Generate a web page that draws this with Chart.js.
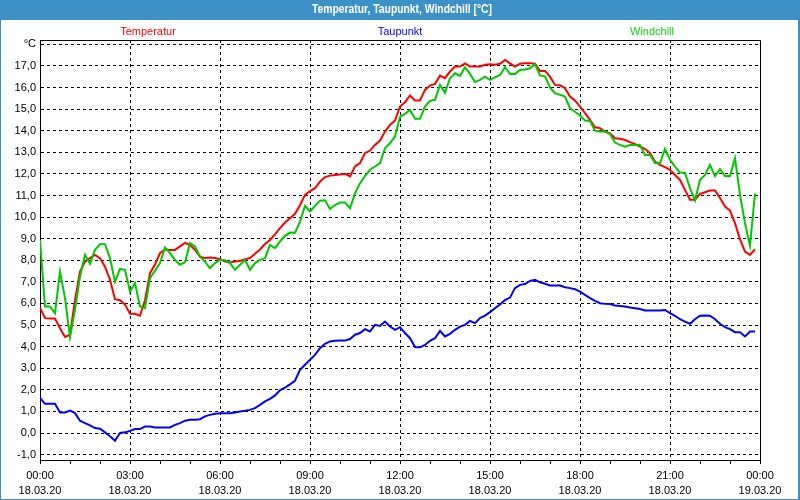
<!DOCTYPE html>
<html lang="de">
<head>
    <meta charset="UTF-8">
    <title>Temperatur, Taupunkt, Windchill</title>
    <script src="https://cdn.jsdelivr.net/npm/chart.js"></script>
    <style>
        html, body { margin: 0; padding: 0; background: #fff; }
        canvas { display: block; }
    </style>
</head>
<body>
    <canvas id="chart" width="800" height="500"></canvas>

    <script>
        // Messwerte alle 10 Minuten, 18.03.20 00:00 bis 23:50
        const stepMinutes = 10;

        const temperatur = [
            5.8, 5.32, 5.3, 5.3, 4.85, 4.45, 4.55, 6.15, 7.48, 7.94, 8.1, 8.25,
            8.1, 7.7, 7.1, 6.2, 6.15, 5.95, 5.52, 5.52, 5.43, 6.15, 7.4, 7.8,
            8.33, 8.5, 8.48, 8.48, 8.64, 8.8, 8.71, 8.48, 8.17, 8.1, 8.13, 8.1,
            8.05, 7.94, 7.9, 7.94, 7.97, 8.05, 8.1, 8.3, 8.5, 8.75, 8.94, 9.2,
            9.49, 9.75, 9.95, 10.15, 10.55, 11.03, 11.2, 11.34, 11.64, 11.85, 11.92, 11.95,
            11.97, 12.0, 11.88, 12.34, 12.5, 12.96, 13.08, 13.34, 13.54, 13.96, 14.27, 14.47,
            15.12, 15.32, 15.63, 15.4, 15.4, 15.89, 16.09, 16.17, 16.55, 16.43, 16.74, 16.97,
            16.97, 17.12, 16.97, 16.97, 16.97, 17.05, 17.08, 17.05, 17.1, 17.28, 17.12, 16.97,
            17.1, 17.12, 17.12, 17.1, 16.77, 16.77, 16.5, 16.12, 16.1, 15.97, 15.58, 15.4,
            15.12, 14.81, 14.5, 14.16, 14.12, 13.96, 13.88, 13.65, 13.63, 13.57, 13.47, 13.38,
            13.26, 13.16, 12.96, 12.57, 12.42, 12.31, 12.19, 11.95, 11.72, 11.26, 10.8, 10.8,
            11.07, 11.15, 11.23, 11.23, 10.88, 10.49, 10.3, 9.72, 8.98, 8.4, 8.25, 8.51
        ];

        const taupunkt = [
            1.62, 1.35, 1.35, 1.35, 0.95, 0.95, 1.04, 0.92, 0.57, 0.46, 0.35, 0.23,
            0.2, 0.03, -0.15, -0.36, 0.0, 0.03, 0.1, 0.18, 0.18, 0.3, 0.3, 0.26,
            0.26, 0.26, 0.26, 0.38, 0.46, 0.57, 0.61, 0.61, 0.64, 0.77, 0.84, 0.89,
            0.92, 0.92, 0.92, 0.95, 1.0, 1.03, 1.07, 1.15, 1.3, 1.46, 1.58, 1.74,
            1.98, 2.1, 2.25, 2.42, 2.93, 3.16, 3.39, 3.62, 3.93, 4.13, 4.24, 4.27,
            4.28, 4.28, 4.35, 4.55, 4.63, 4.81, 4.7, 5.01, 4.96, 5.16, 4.93, 4.78,
            4.9, 4.63, 4.39, 3.98, 3.97, 4.08, 4.27, 4.39, 4.73, 4.47, 4.59, 4.78,
            4.93, 5.01, 5.19, 5.09, 5.32, 5.44, 5.6, 5.78, 5.95, 6.16, 6.27, 6.71,
            6.86, 6.9, 7.04, 7.09, 6.98, 6.91, 6.83, 6.83, 6.83, 6.75, 6.71, 6.66,
            6.55, 6.4, 6.25, 6.12, 6.01, 5.98, 5.97, 5.9, 5.88, 5.86, 5.81, 5.78,
            5.74, 5.67, 5.67, 5.67, 5.67, 5.7, 5.55, 5.43, 5.27, 5.16, 5.06, 5.27,
            5.43, 5.44, 5.43, 5.27, 5.06, 4.9, 4.81, 4.67, 4.67, 4.47, 4.7, 4.7
        ];

        const windchill = [
            8.94, 5.86, 5.86, 5.55, 7.48, 6.25, 4.44, 5.7, 7.25, 8.25, 7.83, 8.48,
            8.74, 8.74, 8.1, 7.0, 7.6, 7.56, 6.55, 6.94, 5.86, 5.78, 7.17, 7.52,
            7.87, 8.59, 8.33, 8.02, 7.79, 7.91, 8.79, 8.64, 8.17, 7.94, 7.63, 7.87,
            8.02, 8.0, 7.87, 7.56, 7.79, 8.02, 7.56, 7.87, 8.02, 8.1, 8.71, 8.56,
            8.87, 9.13, 9.28, 9.27, 9.79, 10.52, 10.26, 10.52, 10.76, 10.78, 10.37, 10.56,
            10.67, 10.67, 10.41, 11.1, 11.57, 11.9, 12.19, 12.34, 12.5, 13.19, 13.42, 13.73,
            14.65, 14.78, 14.96, 14.55, 14.55, 15.12, 15.38, 15.43, 16.12, 15.76, 16.43, 16.66,
            16.54, 16.94, 16.63, 16.25, 16.35, 16.5, 16.35, 16.47, 16.58, 16.94, 16.63, 16.63,
            16.81, 16.83, 16.89, 17.08, 16.56, 16.52, 16.0, 15.74, 15.66, 15.58, 15.04, 14.88,
            14.7, 14.47, 14.45, 14.0, 13.96, 13.97, 13.84, 13.45, 13.34, 13.26, 13.34, 13.34,
            13.34, 12.88, 12.88, 12.5, 12.49, 13.16, 12.65, 12.34, 12.06, 12.05, 11.34, 10.77,
            11.72, 11.95, 12.42, 11.9, 12.22, 11.9, 11.9, 12.73, 11.03, 9.72, 8.67, 11.1
        ];

        // Achsenbeschriftung
        const timeLabels = ['00:00', '03:00', '06:00', '09:00', '12:00', '15:00', '18:00', '21:00', '00:00'];
        const dateLabels = ['18.03.20', '18.03.20', '18.03.20', '18.03.20', '18.03.20', '18.03.20', '18.03.20', '18.03.20', '19.03.20'];
        const yTickValues = [-1, 0, 1, 2, 3, 4, 5, 6, 7, 8, 9, 10, 11, 12, 13, 14, 15, 16, 17, 18];

        const seriesNames = ['Temperatur', 'Taupunkt', 'Windchill'];
        const lineColors = ['#ff0000', '#0000ff', '#00c800'];
        const legendColors = ['#ff0000', '#0000ff', '#00dc00'];

        const FONT = "'Liberation Sans', Arial, sans-serif";
        const toPoints = arr => arr.map((v, i) => ({ x: i * stepMinutes, y: v }));

        // Titelleiste, Rahmen, Legende
        const frame = {
            id: 'frame',
            beforeDraw(chart) {
                const { ctx, width, height, chartArea } = chart;
                ctx.save();
                ctx.fillStyle = '#fff';
                ctx.fillRect(0, 0, width, height);
                ctx.fillStyle = '#3c92c6';
                ctx.fillRect(0, 0, width, 20);
                ctx.fillRect(0, 0, 1, height);
                ctx.fillRect(width - 2, 0, 2, height);
                ctx.fillRect(0, height - 1, width, 1);

                // schmal gesetzter Fenstertitel
                ctx.fillStyle = '#fff';
                ctx.font = "bold 12px " + FONT;
                ctx.textAlign = 'center';
                ctx.textBaseline = 'middle';
                ctx.fillText('Temperatur, Taupunkt, Windchill [°C]', 402, 10, 180);

                const mid = (chartArea.left + chartArea.right) / 2;
                const offsets = [-252, 0, 252];
                ctx.font = "11px " + FONT;
                seriesNames.forEach((name, i) => {
                    ctx.fillStyle = legendColors[i];
                    ctx.fillText(name, mid + offsets[i], 32);
                });
                ctx.restore();
            },
            afterDraw(chart) {
                const { ctx, chartArea } = chart;
                ctx.save();
                ctx.strokeStyle = '#000';
                ctx.lineWidth = 1;
                ctx.beginPath();
                ctx.moveTo(Math.round(chartArea.left), Math.round(chartArea.top) + 0.5);
                ctx.lineTo(Math.round(chartArea.right) + 0.5, Math.round(chartArea.top) + 0.5);
                ctx.lineTo(Math.round(chartArea.right) + 0.5, Math.round(chartArea.bottom));
                ctx.stroke();
                ctx.restore();
            }
        };

        new Chart(document.getElementById('chart'), {
            type: 'line',
            data: {
                datasets: [
                    { label: seriesNames[0], data: toPoints(temperatur), borderColor: lineColors[0], order: 1 },
                    { label: seriesNames[1], data: toPoints(taupunkt), borderColor: lineColors[1], order: 2 },
                    { label: seriesNames[2], data: toPoints(windchill), borderColor: lineColors[2], order: 0 }
                ]
            },
            options: {
                responsive: false,
                devicePixelRatio: 1,
                animation: false,
                layout: { padding: { left: 0, top: 40, right: 40, bottom: 0 } },
                elements: {
                    line: { borderWidth: 2, tension: 0, fill: false },
                    point: { radius: 0 }
                },
                plugins: {
                    legend: { display: false },
                    title: { display: false },
                    tooltip: { enabled: false }
                },
                scales: {
                    x: {
                        type: 'linear',
                        min: 0,
                        max: 1440,
                        afterFit: s => { s.height = 40; },
                        afterBuildTicks: s => {
                            const t = [];
                            for (let m = 0; m <= 1440; m += 60) t.push({ value: m });
                            s.ticks = t;
                        },
                        grid: {
                            color: c => (c.tick && c.tick.value % 180 === 0 && c.tick.value > 0 && c.tick.value < 1440) ? '#000' : 'rgba(0,0,0,0)',
                            tickColor: '#000',
                            tickLength: 4,
                            lineWidth: 1
                        },
                        border: { display: true, color: '#000', width: 1, dash: [3, 3] },
                        ticks: {
                            autoSkip: false,
                            maxRotation: 0,
                            padding: 4,
                            color: '#000',
                            font: { family: FONT, size: 11, lineHeight: '15px' },
                            callback: v => {
                                if (v % 180 !== 0) return '';
                                const i = v / 180;
                                return [timeLabels[i], dateLabels[i]];
                            }
                        }
                    },
                    y: {
                        type: 'linear',
                        min: -1.25,
                        max: 18.2,
                        afterFit: s => { s.width = 40; },
                        afterBuildTicks: s => { s.ticks = yTickValues.map(v => ({ value: v })); },
                        grid: { color: '#000', lineWidth: 1, drawTicks: false },
                        border: { display: true, color: '#000', width: 1, dash: [3, 3] },
                        ticks: {
                            padding: 4,
                            color: '#000',
                            font: { family: FONT, size: 11 },
                            callback: v => v === 18 ? '°C' : v.toFixed(1).replace('.', ',')
                        }
                    }
                }
            },
            plugins: [frame]
        });
    </script>
</body>
</html>
